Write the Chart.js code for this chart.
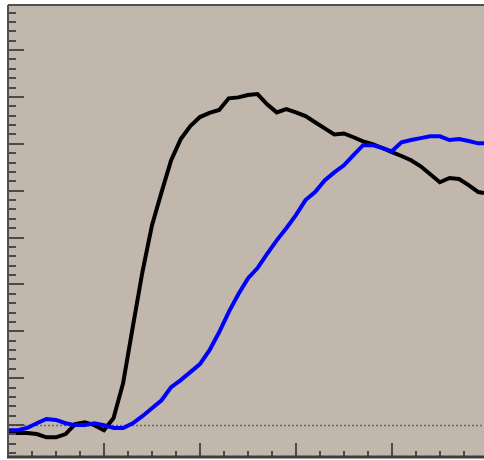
<!DOCTYPE html>
<html>
<head>
<meta charset="utf-8">
<script src="https://cdn.jsdelivr.net/npm/chart.js@4/dist/chart.umd.min.js"></script>
<style>
  html, body { margin: 0; padding: 0; background: #ffffff; }
  #wrap { width: 484px; height: 460px; position: relative; }
</style>
</head>
<body>
<div id="wrap"><canvas id="c" width="484" height="460"></canvas></div>
<script>
// x positions (time units, major tick every 10)
const xValues = [0,1,2,3,4,5,6,7,8,9,10,11,12,13,14,15,16,17,18,19,20,21,22,23,24,25,26,27,28,29,30,31,32,33,34,35,36,37,38,39,40,41,42,43,44,45,46,47,48,49,49.6];
// black series
const blackSeries = [-0.17,-0.17,-0.17,-0.19,-0.26,-0.26,-0.19,0.02,0.06,0.0,-0.11,0.15,0.9,2.09,3.26,4.26,4.97,5.65,6.1,6.38,6.57,6.66,6.72,6.97,6.99,7.04,7.06,6.84,6.67,6.74,6.67,6.59,6.46,6.33,6.2,6.22,6.14,6.05,5.99,5.91,5.82,5.74,5.65,5.52,5.35,5.18,5.27,5.25,5.12,4.97,4.95];
// blue series
const blueSeries = [-0.11,-0.11,-0.06,0.04,0.13,0.11,0.04,0.0,0.0,0.04,0.0,-0.06,-0.06,0.04,0.19,0.36,0.53,0.81,0.96,1.13,1.3,1.6,1.98,2.41,2.79,3.13,3.35,3.65,3.94,4.2,4.48,4.8,4.97,5.22,5.39,5.54,5.76,5.97,5.97,5.91,5.84,6.03,6.08,6.12,6.16,6.16,6.08,6.1,6.06,6.01,6.01];
// axis ranges and tick spacing
const xRange = [0, 49.6];
const yRange = [-0.68, 8.96];
const xMinorStep = 2.5, xMajorStep = 10;
const yMinorStep = 0.2, yMajorStep = 1;
const referenceLevel = 0;

const toPoints = (ys) => ys.map((y, i) => ({ x: xValues[i], y: y }));

const decorPlugin = {
  id: 'decor',
  beforeDraw(chart) {
    const { ctx, chartArea: a } = chart;
    ctx.save();
    ctx.fillStyle = '#c1b7ad';
    ctx.fillRect(a.left, a.top, a.right - a.left, a.bottom - a.top);
    // reference dotted line
    const ys = chart.scales.y;
    const y0 = Math.round(ys.getPixelForValue(referenceLevel)) + 0.5;
    ctx.strokeStyle = '#6e6860';
    ctx.lineWidth = 1.5;
    ctx.setLineDash([2, 2]);
    ctx.beginPath();
    ctx.moveTo(a.left, y0);
    ctx.lineTo(a.right, y0);
    ctx.stroke();
    ctx.restore();
  },
  afterDraw(chart) {
    const { ctx, chartArea: a } = chart;
    const xs = chart.scales.x, ys = chart.scales.y;
    ctx.save();
    ctx.strokeStyle = '#4a4a4a';
    ctx.lineWidth = 2;
    // x ticks (inward)
    const nX = Math.floor((xRange[1] - xRange[0]) / xMinorStep + 1e-9);
    for (let i = 0; i <= nX; i++) {
      const v = xRange[0] + i * xMinorStep;
      const major = Math.abs(v / xMajorStep - Math.round(v / xMajorStep)) < 1e-6;
      const px = Math.round(xs.getPixelForValue(v));
      ctx.beginPath();
      ctx.moveTo(px, a.bottom);
      ctx.lineTo(px, a.bottom - (major ? 14 : 6));
      ctx.stroke();
    }
    // y ticks (inward)
    const startY = Math.ceil(yRange[0] / yMinorStep - 1e-9);
    const endY = Math.floor(yRange[1] / yMinorStep + 1e-9);
    for (let i = startY; i <= endY; i++) {
      const v = i * yMinorStep;
      const major = i % 5 === 0;
      const py = Math.round(ys.getPixelForValue(v));
      ctx.beginPath();
      ctx.moveTo(a.left, py);
      ctx.lineTo(a.left + (major ? 16 : 8), py);
      ctx.stroke();
    }
    // frame: top, left, bottom
    ctx.strokeStyle = '#505050';
    ctx.lineWidth = 2;
    ctx.beginPath();
    ctx.moveTo(a.left, a.top);
    ctx.lineTo(a.right, a.top);
    ctx.stroke();
    ctx.beginPath();
    ctx.moveTo(a.left, a.top);
    ctx.lineTo(a.left, a.bottom);
    ctx.stroke();
    ctx.lineWidth = 3;
    ctx.strokeStyle = '#3e3e3e';
    ctx.beginPath();
    ctx.moveTo(a.left - 1, a.bottom);
    ctx.lineTo(a.right, a.bottom);
    ctx.stroke();
    ctx.restore();
  }
};

new Chart(document.getElementById('c'), {
  type: 'line',
  data: {
    datasets: [
      { label: 'blue', data: toPoints(blueSeries), borderColor: '#0000ff', borderWidth: 4, pointRadius: 0, tension: 0, order: 1 },
      { label: 'black', data: toPoints(blackSeries), borderColor: '#000000', borderWidth: 4, pointRadius: 0, tension: 0, order: 2 }
    ]
  },
  options: {
    responsive: false,
    animation: false,
    devicePixelRatio: 1,
    layout: { padding: { left: 8, top: 5, right: 0, bottom: 3 } },
    plugins: { legend: { display: false }, tooltip: { enabled: false } },
    scales: {
      x: { type: 'linear', min: xRange[0], max: xRange[1], display: false },
      y: { type: 'linear', min: yRange[0], max: yRange[1], display: false }
    }
  },
  plugins: [decorPlugin]
});
</script>
</body>
</html>
